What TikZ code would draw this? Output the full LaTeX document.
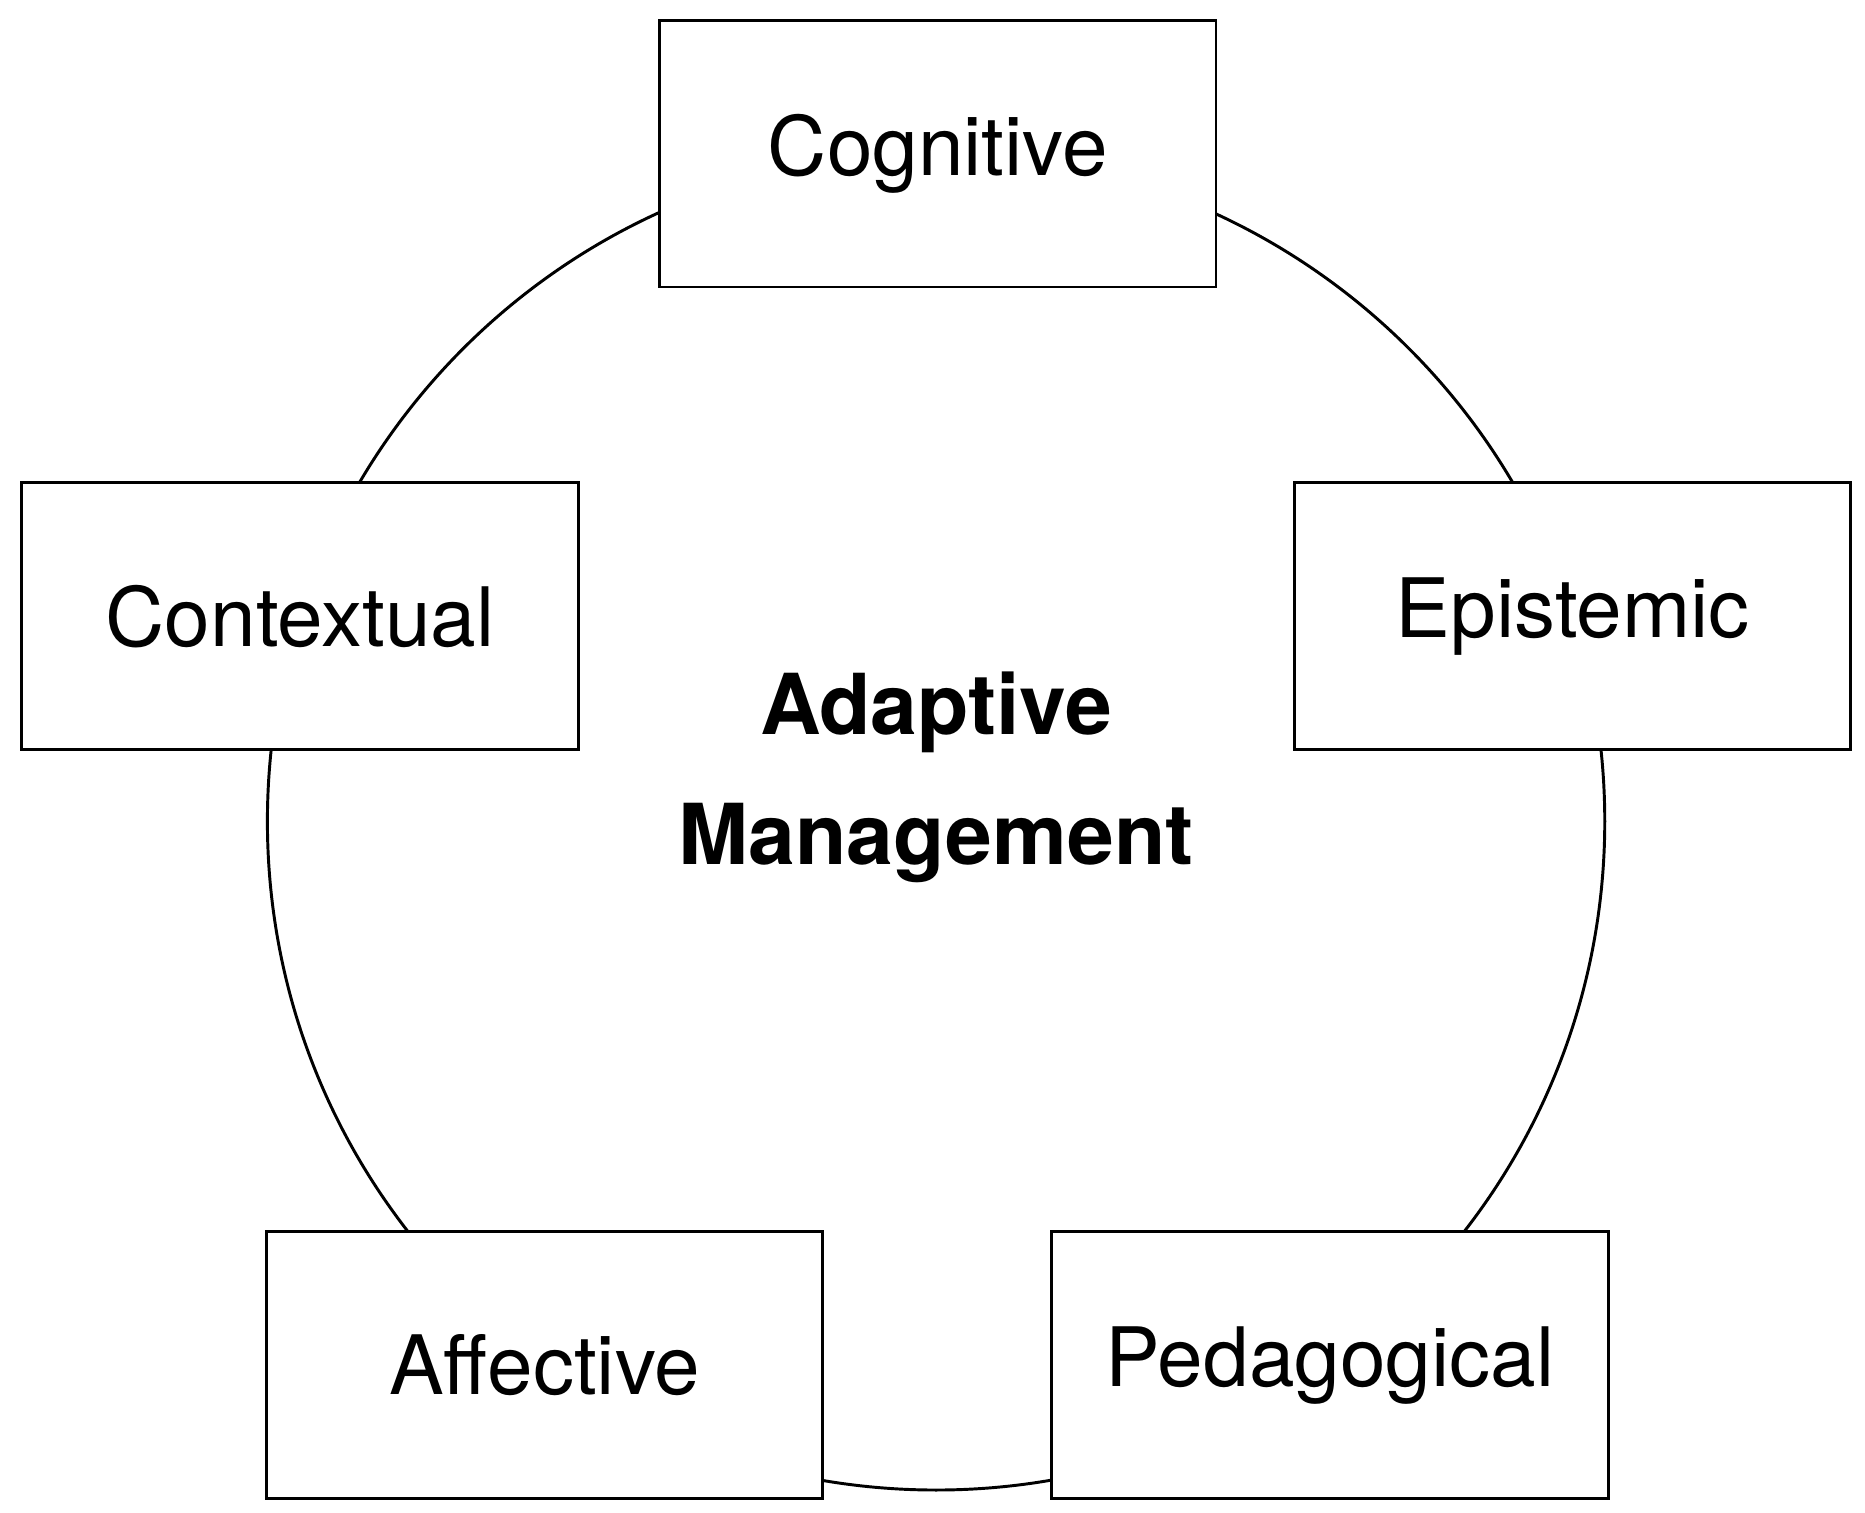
\documentclass[tikz,border=0pt]{standalone}
\usepackage{fontspec}
\setmainfont{TeX Gyre Heros}
\begin{document}
\begin{tikzpicture}[x=0.01cm,y=-0.01cm,
  box/.style={draw,fill=white,line width=0.7pt,minimum width=4.65cm,minimum height=2.23cm,inner sep=0pt,font=\fontsize{19.5pt}{23pt}\selectfont}]
\useasboundingbox (0,0) rectangle (1560,1265);
\node[circle,draw,line width=0.7pt,minimum size=11.18cm,inner sep=0pt] (c) at (783,687) {};
\node[font=\bfseries\fontsize{20pt}{31pt}\selectfont,align=center] (am) at (783,650) {Adaptive\\Management};
\node[box] (cog) at (784.5,128.5) {Cognitive};
\node[box] (con) at (251,515.5) {Contextual};
\node[box] (epi) at (1315.5,515.5) {Epistemic};
\node[box] (aff) at (455.5,1142) {Affective};
\node[box] (ped) at (1112.5,1142) {Pedagogical};
\end{tikzpicture}
\end{document}
